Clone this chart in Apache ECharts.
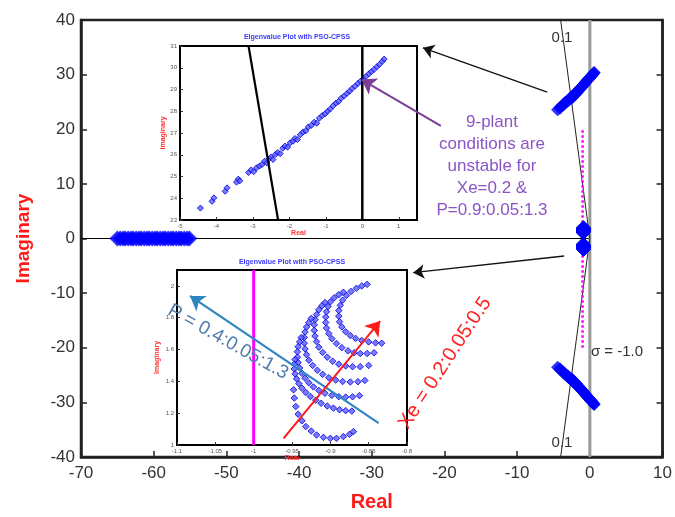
<!DOCTYPE html>
<html>
<head>
<meta charset="utf-8">
<script src="https://cdn.jsdelivr.net/npm/echarts/dist/echarts.min.js"></script>
<style>
html, body { margin: 0; padding: 0; background: #fff; }
#chart { width: 675px; height: 517px; }
</style>
</head>
<body>
<div id="chart"></div>
<script>
// real eigenvalues sitting on the axis
const realPoles = [-65.0, -64.6, -64.2, -63.9, -63.5, -63.1, -62.8, -62.4, -62.0, -61.7, -61.3, -60.9, -60.6, -60.2,
  -59.8, -59.5, -59.1, -58.7, -58.4, -58.0, -57.6, -57.3, -56.9, -56.5, -56.2, -55.8, -55.4, -55.1]

// upper oscillatory mode (re, im) - also shown in the top inset
const upperBand = [
  [-4.44, 23.55], [-4.12, 23.86], [-4.07, 24.02], [-3.76, 24.32], [-3.71, 24.48], [-3.45, 24.74], [-3.40, 24.88], [-3.36, 24.80],
  [-3.12, 25.18], [-3.05, 25.30], [-2.98, 25.22], [-2.90, 25.40], [-2.82, 25.48], [-2.75, 25.55], [-2.68, 25.70], [-2.62, 25.62],
  [-2.55, 25.82], [-2.50, 25.90], [-2.45, 25.78], [-2.38, 26.02], [-2.32, 26.10], [-2.25, 26.05], [-2.18, 26.30], [-2.12, 26.40],
  [-2.05, 26.35], [-1.98, 26.55], [-1.90, 26.62], [-1.85, 26.75], [-1.78, 26.70], [-1.70, 26.92], [-1.62, 27.05], [-1.55, 27.10],
  [-1.48, 27.28], [-1.40, 27.35], [-1.32, 27.50], [-1.25, 27.45], [-1.18, 27.68], [-1.10, 27.80], [-1.02, 27.88], [-0.95, 28.00],
  [-0.88, 28.10], [-0.80, 28.25], [-0.72, 28.38], [-0.65, 28.45], [-0.58, 28.60], [-0.50, 28.70], [-0.42, 28.82], [-0.35, 28.92],
  [-0.28, 29.05], [-0.20, 29.15], [-0.12, 29.28], [-0.05, 29.38], [0.03, 29.50], [0.10, 29.60], [0.18, 29.72], [0.25, 29.82],
  [0.32, 29.92], [0.40, 30.05], [0.47, 30.15], [0.55, 30.30], [0.60, 30.40]
]

// electromechanical mode, one arc per Xe (P = 0.4:0.05:1.3 along each arc)
const arcXe050 = [[-0.852, 2.010], [-0.859, 2.000], [-0.866, 1.985], [-0.873, 1.965], [-0.879, 1.940], [-0.884, 1.910], [-0.887, 1.878],
  [-0.889, 1.845], [-0.889, 1.810], [-0.888, 1.775], [-0.885, 1.742], [-0.880, 1.712], [-0.874, 1.688], [-0.867, 1.670], [-0.859, 1.657],
  [-0.850, 1.648], [-0.841, 1.642], [-0.833, 1.640]]
const arcXe045 = [[-0.883, 1.960], [-0.889, 1.945], [-0.895, 1.925], [-0.900, 1.900], [-0.903, 1.870], [-0.905, 1.838], [-0.906, 1.805],
  [-0.906, 1.770], [-0.905, 1.735], [-0.902, 1.700], [-0.898, 1.668], [-0.892, 1.638], [-0.885, 1.612], [-0.877, 1.592], [-0.869, 1.580],
  [-0.861, 1.575], [-0.852, 1.575], [-0.843, 1.580]]
const arcXe040 = [[-0.907, 1.895], [-0.911, 1.875], [-0.915, 1.850], [-0.918, 1.820], [-0.920, 1.788], [-0.921, 1.755], [-0.921, 1.720],
  [-0.920, 1.685], [-0.918, 1.650], [-0.915, 1.615], [-0.910, 1.582], [-0.904, 1.552], [-0.897, 1.527], [-0.889, 1.508], [-0.880, 1.497],
  [-0.871, 1.492], [-0.861, 1.492], [-0.850, 1.500]]
const arcXe035 = [[-0.925, 1.795], [-0.928, 1.770], [-0.931, 1.742], [-0.933, 1.710], [-0.934, 1.676], [-0.934, 1.640], [-0.933, 1.604],
  [-0.931, 1.568], [-0.928, 1.533], [-0.923, 1.500], [-0.917, 1.470], [-0.910, 1.444], [-0.902, 1.423], [-0.893, 1.408], [-0.884, 1.399],
  [-0.874, 1.396], [-0.864, 1.398], [-0.855, 1.406]]
const arcXe030 = [[-0.938, 1.675], [-0.940, 1.648], [-0.942, 1.618], [-0.943, 1.586], [-0.943, 1.552], [-0.942, 1.518], [-0.940, 1.484],
  [-0.937, 1.451], [-0.933, 1.420], [-0.928, 1.391], [-0.922, 1.365], [-0.915, 1.343], [-0.907, 1.325], [-0.898, 1.312], [-0.889, 1.304],
  [-0.880, 1.301], [-0.871, 1.303], [-0.862, 1.310]]
const arcXe025 = [[-0.946, 1.537], [-0.947, 1.508], [-0.947, 1.478], [-0.946, 1.447], [-0.944, 1.416], [-0.941, 1.386], [-0.937, 1.357],
  [-0.932, 1.330], [-0.926, 1.305], [-0.919, 1.282], [-0.912, 1.262], [-0.904, 1.245], [-0.896, 1.232], [-0.888, 1.222], [-0.880, 1.216],
  [-0.872, 1.213]]
const arcXe020 = [[-0.948, 1.347], [-0.947, 1.295], [-0.945, 1.242], [-0.942, 1.194], [-0.937, 1.152], [-0.932, 1.116], [-0.925, 1.088],
  [-0.918, 1.063], [-0.909, 1.048], [-0.900, 1.042], [-0.892, 1.042], [-0.883, 1.053], [-0.875, 1.067], [-0.870, 1.084]]

// reference lines
const zetaLine = [[-4.02, 40], [0, 0], [-4.02, -40]]   // damping 0.1
const zetaInset = [[-3.12, 31], [-2.31, 23]]
const sigmaLine = [[-1, -20], [-1, 20]]                 // sigma = -1.0

const mainTicksX = [-70, 10, 10]
const mainTicksY = [-40, 40, 10]

const arcs = [arcXe050, arcXe045, arcXe040, arcXe035, arcXe030, arcXe025, arcXe020]
const arcPts = [].concat(...arcs)
const conj = pts => pts.map(p => [p[0], -p[1]])

const FONT = 'Liberation Sans, Arial, sans-serif'
const BLUE = '#0000ff'

let chart = echarts.init(document.getElementById('chart'))

function lineSer(data, xi, yi, color, width, type) {
  return {
    type: 'line', xAxisIndex: xi, yAxisIndex: yi, data: data,
    showSymbol: false, symbol: 'none', silent: true, animation: false,
    lineStyle: { color: color, width: width, type: type || 'solid' }, z: 3
  }
}
function arrowSer(from, to, xi, yi, color, width, size) {
  return {
    type: 'lines', coordinateSystem: 'cartesian2d', xAxisIndex: xi, yAxisIndex: yi,
    symbol: ['none', 'arrow'], symbolSize: size, silent: true, animation: false,
    lineStyle: { color: color, width: width, opacity: 1 },
    data: [{ coords: [from, to] }], z: 5
  }
}
function dots(data, xi, yi, size, inset) {
  return {
    type: 'scatter', xAxisIndex: xi, yAxisIndex: yi, data: data, symbol: 'diamond',
    symbolSize: size, animation: false, silent: true, z: inset ? 2 : 4,
    itemStyle: inset ? { color: '#5a5aff', borderColor: '#0000e0', borderWidth: 1 } : { color: BLUE }
  }
}

const insetAxis = {
  type: 'value',
  axisLine: { onZero: false, lineStyle: { color: '#000', width: 2 } },
  axisTick: { inside: true, length: 3, lineStyle: { color: '#333', width: 1 } },
  axisLabel: { fontSize: 6, color: '#555', margin: 3, fontFamily: FONT, showMaxLabel: false },
  splitLine: { show: false },
  nameLocation: 'middle',
  nameTextStyle: { color: '#ff3030', fontSize: 7, fontWeight: 'bold', fontFamily: FONT }
}
const insetAxisFull = Object.assign({}, insetAxis, {
  axisLabel: { fontSize: 6, color: '#555', margin: 3, fontFamily: FONT }
})

let option = {
  backgroundColor: '#fff',
  animation: false,
  grid: [
    { left: 81, right: 9, top: 20, bottom: 56, show: true, borderColor: '#222', borderWidth: 2.5, backgroundColor: 'transparent' },
    { left: 180, top: 46, width: 237, height: 174, show: true, borderColor: '#000', borderWidth: 2, backgroundColor: '#fff' },
    { left: 177, top: 270, width: 230, height: 175, show: true, borderColor: '#000', borderWidth: 2, backgroundColor: '#fff' }
  ],
  xAxis: [
    {
      gridIndex: 0, type: 'value', min: mainTicksX[0], max: mainTicksX[1], interval: mainTicksX[2],
      axisLine: { onZero: false, lineStyle: { color: '#222', width: 2.5 } },
      axisTick: { inside: true, length: 6, lineStyle: { color: '#222', width: 1.5 } },
      axisLabel: { fontSize: 17, color: '#333', margin: 8, fontFamily: FONT },
      splitLine: { show: false },
      name: 'Real', nameLocation: 'middle', nameGap: 35,
      nameTextStyle: { color: '#ff1a1a', fontSize: 20, fontWeight: 'bold', fontFamily: FONT }
    },
    Object.assign({}, insetAxis, { gridIndex: 1, min: -5, max: 1.5, interval: 1, name: 'Real', nameGap: 10 }),
    Object.assign({}, insetAxisFull, { gridIndex: 2, min: -1.1, max: -0.8, interval: 0.05, name: 'Real', nameGap: 10 })
  ],
  yAxis: [
    {
      gridIndex: 0, type: 'value', min: mainTicksY[0], max: mainTicksY[1], interval: mainTicksY[2],
      axisLine: { onZero: false, lineStyle: { color: '#222', width: 2.5 } },
      axisTick: { inside: true, length: 6, lineStyle: { color: '#222', width: 1.5 } },
      axisLabel: { fontSize: 17, color: '#333', margin: 6, fontFamily: FONT },
      splitLine: { show: false },
      name: 'Imaginary', nameLocation: 'middle', nameGap: 48,
      nameTextStyle: { color: '#ff1a1a', fontSize: 19, fontWeight: 'bold', fontFamily: FONT }
    },
    {
      gridIndex: 0, type: 'value', position: 'right', min: mainTicksY[0], max: mainTicksY[1], interval: mainTicksY[2],
      axisLine: { onZero: false, lineStyle: { color: '#222', width: 2.5 } },
      axisTick: { inside: true, length: 6, lineStyle: { color: '#222', width: 1.5 } },
      axisLabel: { show: false }, splitLine: { show: false }
    },
    Object.assign({}, insetAxisFull, { gridIndex: 1, min: 23, max: 31, interval: 1, name: 'Imaginary', nameGap: 13 }),
    Object.assign({}, insetAxis, { gridIndex: 2, min: 1, max: 2.1, interval: 0.2, name: 'Imaginary', nameGap: 16 })
  ],
  series: [
    // main plane
    lineSer([[-70, 0], [0, 0]], 0, 0, '#000', 1.2),
    lineSer([[0, -40], [0, 40]], 0, 0, '#9a9a9a', 3),
    lineSer(zetaLine, 0, 0, '#222', 1),
    lineSer(sigmaLine, 0, 0, '#ff00ff', 2.5, 'dotted'),
    dots(realPoles.map(r => [r, 0]), 0, 0, 16),
    dots(upperBand, 0, 0, 13),
    dots(conj(upperBand), 0, 0, 13),
    dots(arcPts, 0, 0, 14),
    dots(conj(arcPts), 0, 0, 14),
    arrowSer([-5.86, 26.8], [-22.96, 34.9], 0, 0, '#111', 1.3, 11),
    arrowSer([-3.54, -3.2], [-24.3, -6.26], 0, 0, '#111', 1.3, 11),
    // top inset
    dots(upperBand, 1, 2, 6, true),
    lineSer(zetaInset, 1, 2, '#000', 2.2),
    lineSer([[0, 23], [0, 31]], 1, 2, '#000', 2.5),
    // bottom inset
    lineSer([[-1, 1], [-1, 2.1]], 2, 3, '#ff00ff', 3),
    dots(arcPts, 2, 3, 6.5, true),
    arrowSer([-0.837, 1.137], [-1.083, 1.937], 2, 3, '#2e86c1', 2.2, 14),
    arrowSer([-0.961, 1.042], [-0.835, 1.779], 2, 3, '#ff1a1a', 2, 14),
    // purple pointer, drawn last so it sits over the inset
    arrowSer([-20.5, 20.6], [-31.4, 29.1], 0, 0, '#7d3c98', 2, 14)
  ],
  graphic: [
    { type: 'text', x: 297, y: 37, z: 100, style: { text: 'Eigenvalue Plot with PSO-CPSS', fill: '#3a3aff', font: 'bold 7px ' + FONT, textAlign: 'center', textVerticalAlign: 'middle' } },
    { type: 'text', x: 292, y: 262, z: 100, style: { text: 'Eigenvalue Plot with PSO-CPSS', fill: '#3a3aff', font: 'bold 7px ' + FONT, textAlign: 'center', textVerticalAlign: 'middle' } },
    { type: 'text', x: 492, y: 166, z: 100, style: { text: '9-plant\nconditions are\nunstable for\nXe=0.2 &\nP=0.9:0.05:1.3', fill: '#8b55c6', font: '17px ' + FONT, lineHeight: 22, textAlign: 'center', textVerticalAlign: 'middle' } },
    { type: 'text', x: 562, y: 38, z: 100, style: { text: '0.1', fill: '#333', font: '15px ' + FONT, textAlign: 'center', textVerticalAlign: 'middle' } },
    { type: 'text', x: 562, y: 443, z: 100, style: { text: '0.1', fill: '#333', font: '15px ' + FONT, textAlign: 'center', textVerticalAlign: 'middle' } },
    { type: 'text', x: 617, y: 352, z: 100, style: { text: 'σ = -1.0', fill: '#333', font: '15px ' + FONT, textAlign: 'center', textVerticalAlign: 'middle' } },
    { type: 'text', x: 228, y: 342, rotation: -0.51, z: 100, style: { text: 'P = 0.4:0.05:1.3', fill: '#4f7cac', font: '19px ' + FONT, textAlign: 'center', textVerticalAlign: 'middle' } },
    { type: 'text', x: 445, y: 363, rotation: 0.99, z: 100, style: { text: 'Xe = 0.2:0.05:0.5', fill: '#ff2020', font: '20px ' + FONT, textAlign: 'center', textVerticalAlign: 'middle' } }
  ]
}

chart.setOption(option)
</script>
</body>
</html>
